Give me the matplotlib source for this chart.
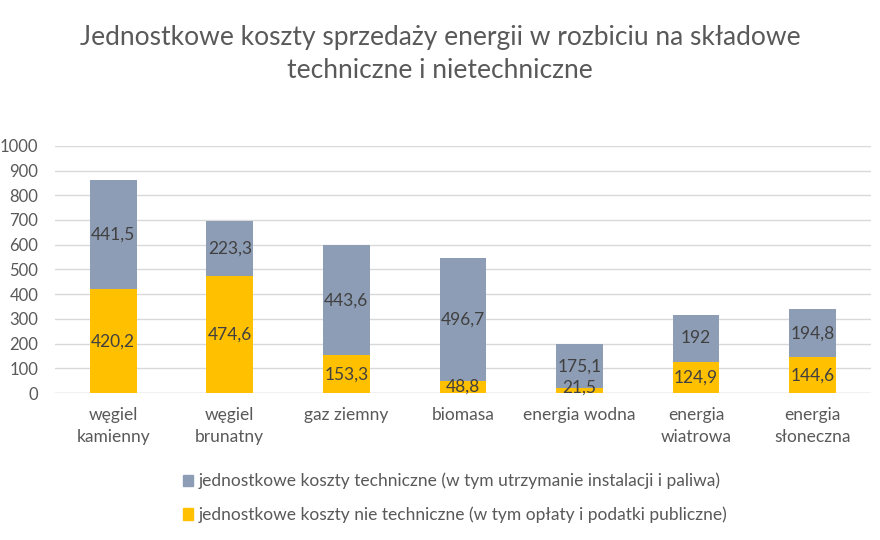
import matplotlib
matplotlib.use("Agg")
import matplotlib.pyplot as plt
import numpy as np
from matplotlib.patches import Patch

categories = ["węgiel\nkamienny", "węgiel\nbrunatny", "gaz ziemny", "biomasa",
              "energia wodna", "energia\nwiatrowa", "energia\nsłoneczna"]
nontech = [420.2, 474.6, 153.3, 48.8, 21.5, 124.9, 144.6]
tech = [441.5, 223.3, 443.6, 496.7, 175.1, 192, 194.8]
yticks = list(range(0, 1001, 100))

def fmt(v):
    s = ("%.1f" % v).rstrip("0").rstrip(".")
    return s.replace(".", ",")

plt.rcParams['font.family'] = ['Lato', 'DejaVu Sans']
txt = "#595959"
gray = "#8E9DB6"
yellow = "#FFC000"

fig = plt.figure(figsize=(8.8, 5.4), dpi=100)
ax = fig.add_axes([0.0625, 0.272, 0.927, 0.458])
x = np.arange(len(categories))
ax.bar(x, nontech, width=0.4, color=yellow, zorder=3)
ax.bar(x, tech, width=0.4, bottom=nontech, color=gray, zorder=3)
for i in range(len(x)):
    yb = nontech[i] / 2
    if nontech[i] < 40:
        yb = nontech[i] + 2
    ax.text(x[i], yb, fmt(nontech[i]), ha="center", va="center", fontsize=12.5, color="#404040", zorder=4)
    ax.text(x[i], nontech[i] + tech[i] / 2, fmt(tech[i]), ha="center", va="center", fontsize=12.5, color="#404040", zorder=4)

ax.set_xlim(-0.5, len(x) - 0.5)
ax.set_ylim(0, 1000)
ax.set_yticks(yticks)
ax.set_yticklabels([str(t) for t in yticks], fontsize=12, color=txt)
ax.set_xticks(x)
ax.set_xticklabels(categories, fontsize=12.5, color=txt, linespacing=1.45)
ax.tick_params(axis="x", length=0, pad=10)
ax.tick_params(axis="y", length=0, pad=12)
ax.grid(axis="y", color="#D9D9D9", linewidth=1, zorder=0)
for s in ax.spines.values():
    s.set_visible(False)
ax.axhline(0, color="#D9D9D9", linewidth=1, zorder=1)

fig.text(0.5, 0.9, "Jednostkowe koszty sprzedaży energii w rozbiciu na składowe\ntechniczne i nietechniczne",
         ha="center", va="center", fontsize=19, color=txt, linespacing=1.4)

handles = [Patch(color=gray), Patch(color=yellow)]
labels = ["jednostkowe koszty techniczne (w tym utrzymanie instalacji i paliwa)",
          "jednostkowe koszty nie techniczne (w tym opłaty i podatki publiczne)"]
leg = fig.legend(handles, labels, loc="center left", bbox_to_anchor=(0.19, 0.078),
                 frameon=False, fontsize=12.5, handlelength=0.6, handleheight=0.6,
                 handletextpad=0.3, labelspacing=1.0, labelcolor=txt)

fig.savefig("out.png", dpi=100, facecolor="white")
